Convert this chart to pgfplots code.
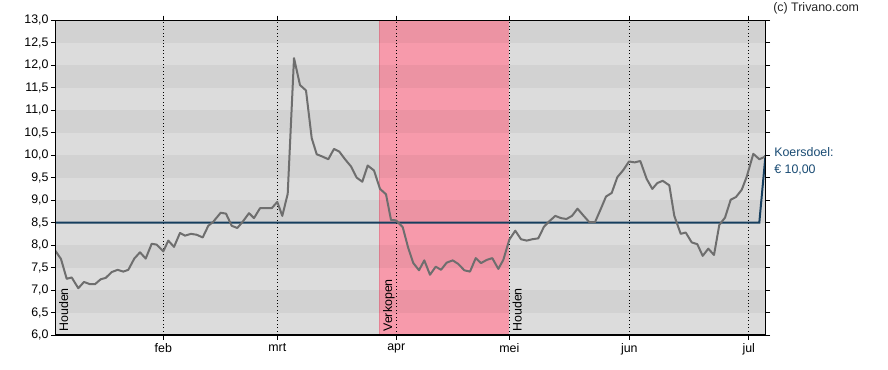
\documentclass[border=0pt]{standalone}
\usepackage{fontspec}
\setmainfont{Liberation Sans}
\usepackage{pgfplots}
\pgfplotsset{compat=1.18}
\definecolor{bglight}{RGB}{220,220,220}
\definecolor{pinkbg}{RGB}{247,154,171}
\definecolor{pinkedge}{RGB}{230,130,148}
\definecolor{priceline}{RGB}{110,110,110}
\definecolor{target}{RGB}{22,62,94}
\definecolor{koers}{RGB}{25,75,115}
\begin{document}
\begin{tikzpicture}
\path[use as bounding box] (0,0) rectangle (666pt,277.5pt);
\begin{axis}[
  at={(41.625pt,26.25pt)}, anchor=south west,
  scale only axis, width=532.5pt, height=236pt,
  xmin=55.5, xmax=765.5, ymin=6, ymax=13,
  xtick={163.3,277.3,396.3,509.3,629.3,748.7},
  xticklabels={feb,mrt,apr,mei,jun,jul},
  ytick={6,6.5,...,13},
  tick align=outside, major tick length=3.5pt,
  tick style={black, line width=0.6pt},
  axis line style={black, line width=0.8pt},
  axis on top,
  /pgf/number format/.cd, fixed, fixed zerofill, precision=1, use comma, assume math mode=true,
  /pgfplots/.cd,
  yticklabel style={font=\fontsize{9.3}{11}\selectfont, inner sep=0pt, xshift=-1.5pt},
  xticklabel style={font=\fontsize{9.3}{11}\selectfont, inner sep=0pt, yshift=-3pt},
  clip=true,
]
% background bands
\fill[bglight] (axis cs:55.5,6) rectangle (axis cs:765.5,13);
\fill[pinkbg] (axis cs:379.3,6) rectangle (axis cs:509.3,13);
\draw[pinkedge, line width=0.8pt] (axis cs:379.3,6) -- (axis cs:379.3,13);
\fill[black, opacity=0.045] (axis cs:55.5,6.5) rectangle (axis cs:765.5,7.0);
\fill[black, opacity=0.045] (axis cs:55.5,7.5) rectangle (axis cs:765.5,8.0);
\fill[black, opacity=0.045] (axis cs:55.5,8.5) rectangle (axis cs:765.5,9.0);
\fill[black, opacity=0.045] (axis cs:55.5,9.5) rectangle (axis cs:765.5,10.0);
\fill[black, opacity=0.045] (axis cs:55.5,10.5) rectangle (axis cs:765.5,11.0);
\fill[black, opacity=0.045] (axis cs:55.5,11.5) rectangle (axis cs:765.5,12.0);
\fill[black, opacity=0.045] (axis cs:55.5,12.5) rectangle (axis cs:765.5,13.0);
% month lines
\draw[black, line width=0.6pt, dotted] (axis cs:163.3,6) -- (axis cs:163.3,13);
\draw[black, line width=0.6pt, dotted] (axis cs:277.3,6) -- (axis cs:277.3,13);
\draw[black, line width=0.6pt, dotted] (axis cs:396.3,6) -- (axis cs:396.3,13);
\draw[black, line width=0.6pt, dotted] (axis cs:509.3,6) -- (axis cs:509.3,13);
\draw[black, line width=0.6pt, dotted] (axis cs:629.3,6) -- (axis cs:629.3,13);
\draw[black, line width=0.6pt, dotted] (axis cs:748.7,6) -- (axis cs:748.7,13);
% target
\addplot[target, line width=1.5pt] coordinates {(55.5,8.5) (759.3,8.5) (765.5,10.0)};
% price
\addplot[priceline, line width=1.5pt, line join=round] coordinates {
(55.5,7.87) (61,7.69) (66.7,7.25) (71.7,7.28) (78.3,7.04) (84,7.18) (90,7.13) (95,7.13)
(100.7,7.24) (105.7,7.27) (111.7,7.40) (117.7,7.45) (123.3,7.41) (128.3,7.45) (134.3,7.70)
(140,7.84) (145.7,7.70) (151.7,8.03) (156.7,8.01) (163.3,7.86) (168.3,8.10) (174,7.96)
(180,8.27) (185,8.21) (191,8.25) (196.7,8.23) (202.7,8.17) (208.3,8.43) (213.3,8.52)
(220.7,8.72) (226,8.70) (231.7,8.43) (237.3,8.38) (242.7,8.52) (249,8.71) (254,8.60)
(260,8.82) (265.7,8.82) (271.7,8.82) (277.3,8.96) (282.3,8.65) (287.7,9.14) (294,12.16)
(300,11.56) (306,11.44) (311.7,10.38) (316.7,10.02) (322.3,9.97) (328.3,9.91) (334,10.14)
(339.3,10.08) (345,9.91) (351,9.75) (356.7,9.50) (362.3,9.41) (367.7,9.77) (374,9.66)
(380,9.25) (386,9.13) (391,8.56) (396,8.55) (402.7,8.40) (408.3,7.93) (413.3,7.60)
(419,7.44) (424.3,7.66) (430,7.34) (435.7,7.52) (441,7.45) (446.7,7.61) (452.7,7.66)
(458.3,7.58) (464.3,7.44) (470,7.41) (475.7,7.71) (481,7.60) (486.7,7.67) (492.3,7.71)
(498.3,7.47) (503.3,7.67) (509.3,8.12) (515.3,8.32) (521,8.13) (526.7,8.10) (532.3,8.13)
(538.3,8.15) (544,8.41) (549.3,8.53) (555.3,8.65) (561,8.60) (566.5,8.58) (572,8.65)
(577.5,8.81) (583.3,8.66) (589.3,8.51) (595,8.51) (600.7,8.80) (606,9.08) (611.7,9.16)
(617.3,9.51) (623.3,9.67) (629,9.86) (634.7,9.84) (640.3,9.87) (646.7,9.47) (652.3,9.25)
(657.3,9.38) (662.7,9.43) (669.3,9.33) (674.3,8.65) (680.7,8.25) (685.7,8.28) (691.7,8.06)
(697.3,8.02) (702.7,7.76) (708.3,7.92) (714,7.78) (719.3,8.45) (725,8.61) (730.7,9.01)
(736,9.07) (741.7,9.23) (746.7,9.52) (753.3,10.03) (759.3,9.91) (765.5,9.97)
};
% signal labels
\node[rotate=90, anchor=north west, inner sep=0pt, font=\fontsize{9.3}{11}\selectfont] at (axis cs:58.8,6.07) {Houden};
\node[rotate=90, anchor=north west, inner sep=0pt, font=\fontsize{9.3}{11}\selectfont] at (axis cs:382.8,6.07) {Verkopen};
\node[rotate=90, anchor=north west, inner sep=0pt, font=\fontsize{9.3}{11}\selectfont] at (axis cs:512.3,6.07) {Houden};
\end{axis}
% annotations outside axis
\node[anchor=west, inner sep=0pt, font=\fontsize{9.3}{11}\selectfont, text=black!85] at (579.8pt,271.1pt) {(c) Trivano.com};
\node[anchor=west, inner sep=0pt, font=\fontsize{9.3}{11}\selectfont, text=koers] at (580.5pt,163.7pt) {Koersdoel:};
\node[anchor=west, inner sep=0pt, font=\fontsize{9.3}{11}\selectfont, text=koers] at (580.5pt,150pt) {€ 10,00};
\end{tikzpicture}
\end{document}
